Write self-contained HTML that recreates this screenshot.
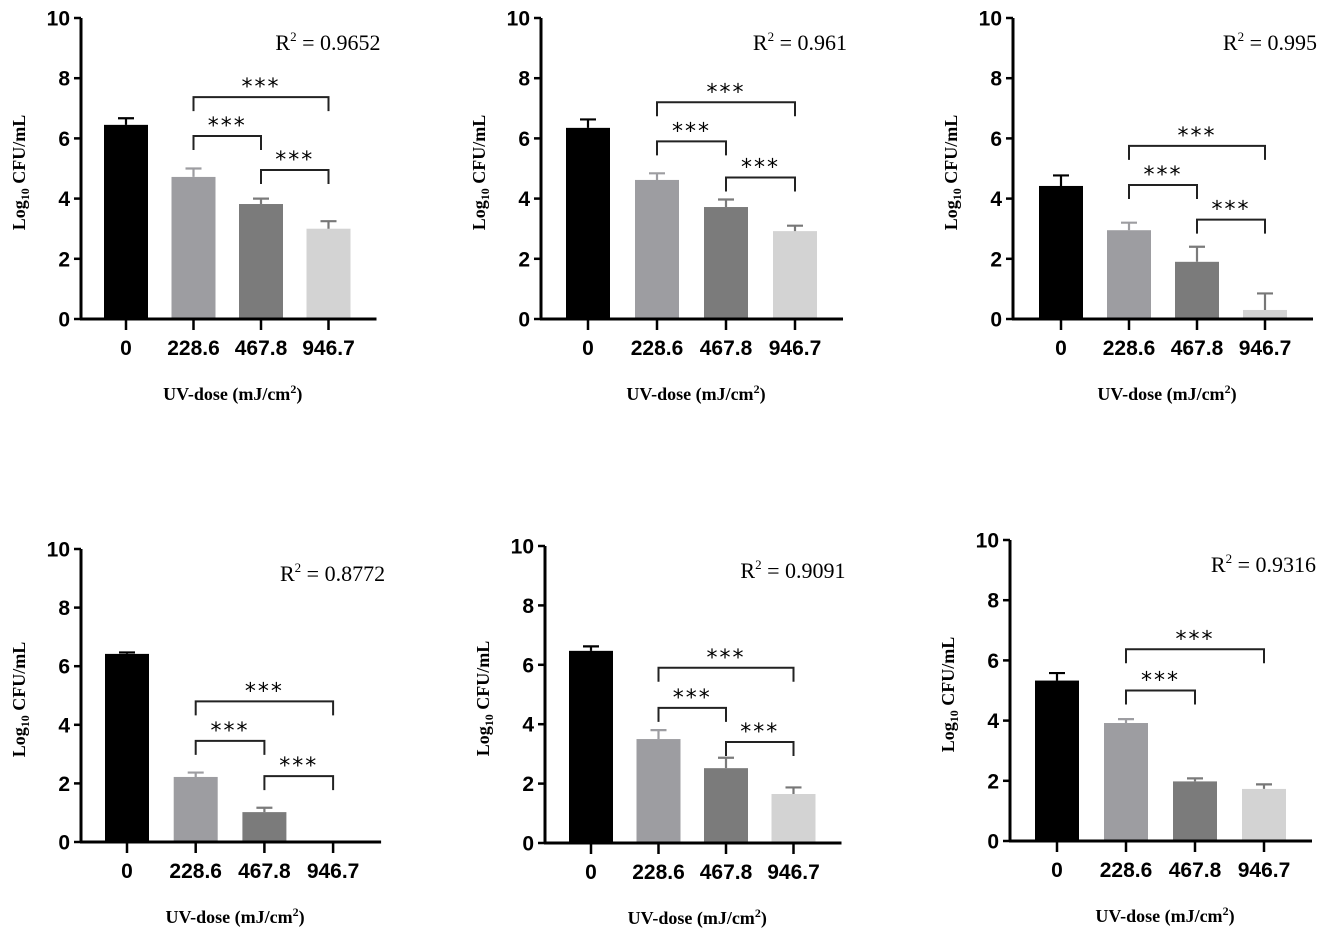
<!DOCTYPE html>
<html><head><meta charset="utf-8"><style>
html,body{margin:0;padding:0;background:#fff;}
svg{display:block;}
</style></head><body>
<svg id="chart" width="1325" height="941" xmlns="http://www.w3.org/2000/svg"></svg>
<script>
const categories = ["0","228.6","467.8","946.7"];
const yTicks = [0,2,4,6,8,10];
const r2Labels = ["0.9652","0.961","0.995","0.8772","0.9091","0.9316"];
const values1 = [6.45,4.72,3.82,3.0];
const errors1 = [0.22,0.28,0.18,0.25];
const values2 = [6.35,4.62,3.72,2.92];
const errors2 = [0.28,0.22,0.25,0.18];
const values3 = [4.42,2.95,1.9,0.3];
const errors3 = [0.35,0.25,0.5,0.55];
const values4 = [6.42,2.22,1.02,0];
const errors4 = [0.05,0.15,0.15,0];
const values5 = [6.47,3.5,2.52,1.65];
const errors5 = [0.15,0.3,0.35,0.22];
const values6 = [5.33,3.92,1.98,1.73];
const errors6 = [0.25,0.13,0.1,0.15];
// brackets: [fromIndex, toIndex, level]
const brackets1 = [[1,3,7.37],[1,2,6.08],[2,3,4.95]];
const brackets2 = [[1,3,7.2],[1,2,5.9],[2,3,4.7]];
const brackets3 = [[1,3,5.75],[1,2,4.45],[2,3,3.3]];
const brackets4 = [[1,3,4.8],[1,2,3.45],[2,3,2.25]];
const brackets5 = [[1,3,5.9],[1,2,4.55],[2,3,3.4]];
const brackets6 = [[1,3,6.37],[1,2,5.0]];

const seriesVals=[values1,values2,values3,values4,values5,values6];
const seriesErr=[errors1,errors2,errors3,errors4,errors5,errors6];
const seriesBr=[brackets1,brackets2,brackets3,brackets4,brackets5,brackets6];
const layout=[
 {ax:81,y0:319,y10:18,t0:126,dt:67.5},
 {ax:541,y0:319,y10:18,t0:588,dt:69},
 {ax:1013,y0:319,y10:18,t0:1061,dt:68},
 {ax:81,y0:842,y10:549,t0:127,dt:68.7},
 {ax:545,y0:843,y10:546,t0:591,dt:67.5},
 {ax:1010,y0:841,y10:540,t0:1057,dt:69}
];
const colors=["#000000","#9d9da1","#7b7b7b","#d3d3d3"];
const NS="http://www.w3.org/2000/svg";
const svg=document.getElementById('chart');
function mk(tag,attrs,parent,text){const e=document.createElementNS(NS,tag);for(const k in attrs)e.setAttribute(k,attrs[k]);if(text!==undefined)e.textContent=text;parent.appendChild(e);return e;}

layout.forEach((L,p)=>{
  const g=mk('g',{},svg);
  
  
  const y=v=>L.y0-(v/10)*(L.y0-L.y10);
  const x=i=>L.t0+i*L.dt;
  const axEnd=x(3)+48;
  const bw=44;
  seriesVals[p].forEach((v,i)=>{
    if(v>0){
      const r=mk('rect',{x:x(i)-bw/2,y:y(v),width:bw,height:L.y0-y(v)-1,fill:colors[i]},g);
      
      
    }
    const e=seriesErr[p][i];
    if(e>0){
      const el=mk('path',{d:`M${x(i)},${y(v)} V${y(v+e)} M${x(i)-8},${y(v+e)} H${x(i)+8}`,stroke:colors[i]==="#d3d3d3"?"#777":(i==0?"#000":colors[i]),'stroke-width':2.2,fill:'none'},g);
      
      
    }
  });
  const ya=mk('path',{d:`M${L.ax},${L.y10} V${L.y0}`,stroke:'#000','stroke-width':3,fill:'none'},g);
  
  
  const xa=mk('path',{d:`M${L.ax-1},${L.y0} H${axEnd}`,stroke:'#000','stroke-width':3,fill:'none'},g);
  
  
  yTicks.forEach(t=>{
    mk('path',{d:`M${L.ax-7},${y(t)} H${L.ax}`,stroke:'#000','stroke-width':2.5},g);
    const tl=mk('text',{x:L.ax-11,y:y(t)+7.5,'text-anchor':'end','font-family':'Liberation Sans, sans-serif','font-weight':'bold','font-size':21},g,String(t));
    
    
  });
  categories.forEach((c,i)=>{
    mk('path',{d:`M${x(i)},${L.y0} V${L.y0+11}`,stroke:'#000','stroke-width':2.5},g);
    const tl=mk('text',{x:x(i),y:L.y0+36,'text-anchor':'middle','font-family':'Liberation Sans, sans-serif','font-weight':'bold','font-size':21},g,c);
    
    
  });
  seriesBr[p].forEach(b=>{
    const x1=x(b[0]),x2=x(b[1]),yy=y(b[2]);
    const br=mk('path',{d:`M${x1},${yy+14} V${yy} H${x2} V${yy+14}`,stroke:'#222','stroke-width':2,fill:'none'},g);
    
    
    const st=mk('text',{x:(x1+x2)/2,y:yy-3,'text-anchor':'middle','font-family':'DejaVu Sans, sans-serif','font-size':22,'letter-spacing':'2'},g,'***');
    
    
  });
  const r2=mk('text',{x:axEnd+4,y:L.y10+32,'text-anchor':'end','font-family':'Liberation Serif, serif','font-size':22},g);
  
  
  mk('tspan',{},r2,'R');
  mk('tspan',{'font-size':13,dy:-9},r2,'2');
  mk('tspan',{dy:9},r2,' = '+r2Labels[p]);
  const cy=(L.y0+L.y10)/2+4;
  const yt=mk('text',{transform:`translate(${L.ax-56},${cy}) rotate(-90)`,'text-anchor':'middle','font-family':'Liberation Serif, serif','font-weight':'bold','font-size':18},g);
  
  
  mk('tspan',{},yt,'Log');
  mk('tspan',{'font-size':12,dy:4},yt,'10');
  mk('tspan',{dy:-4},yt,'  CFU/mL');
  const xt=mk('text',{x:(L.ax+axEnd)/2+4,y:L.y0+81,'text-anchor':'middle','font-family':'Liberation Serif, serif','font-weight':'bold','font-size':18},g);
  
  
  mk('tspan',{},xt,'UV-dose (mJ/cm');
  mk('tspan',{'font-size':12,dy:-7},xt,'2');
  mk('tspan',{dy:7},xt,')');
});
</script>
</body></html>
